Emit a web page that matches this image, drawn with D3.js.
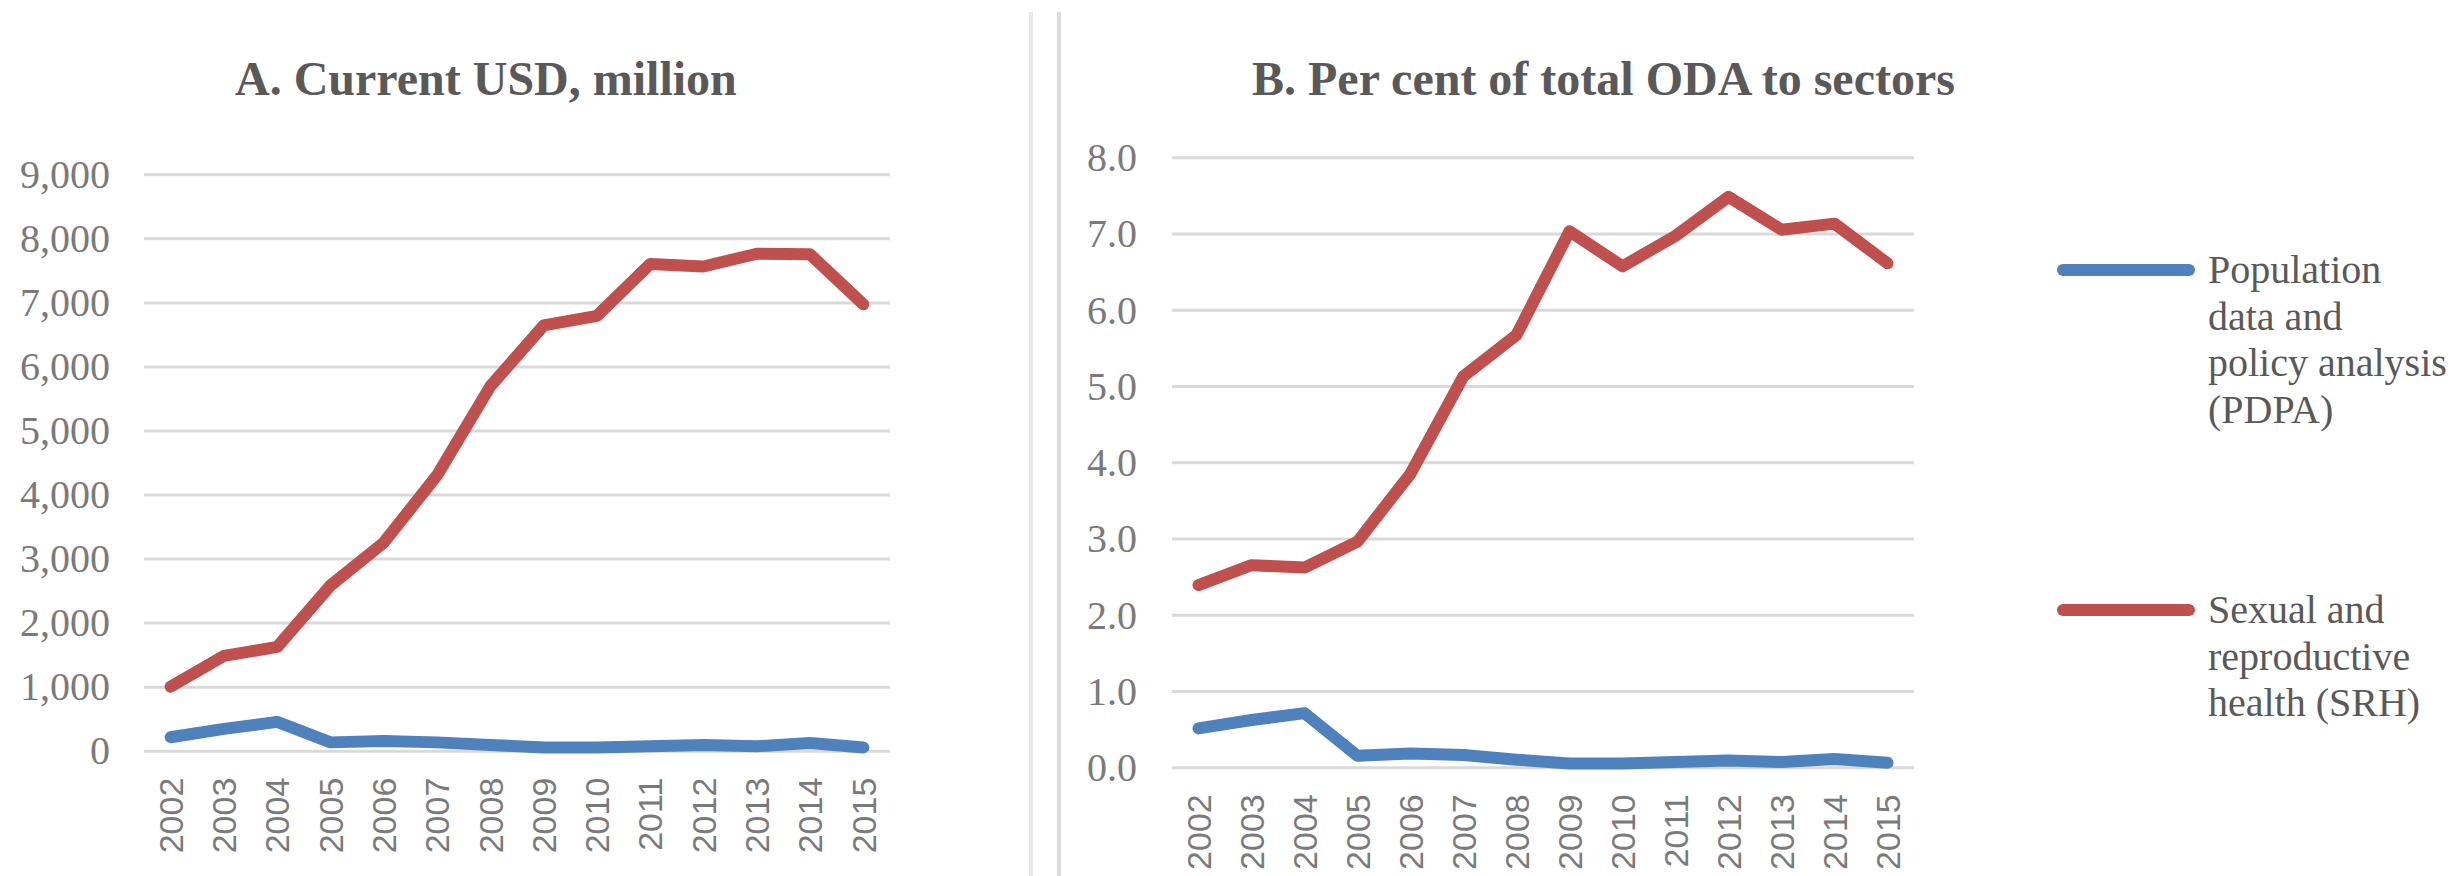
<!DOCTYPE html>
<html>
<head>
<meta charset="utf-8">
<script src="https://cdn.jsdelivr.net/npm/d3@7"></script>
<style>
  html, body { margin: 0; padding: 0; background: #ffffff; }
  svg { display: block; }
</style>
</head>
<body>
<svg id="chart" width="2458" height="876"></svg>
<script>
// ---------------- DATA ----------------
const years = ["2002","2003","2004","2005","2006","2007","2008","2009","2010","2011","2012","2013","2014","2015"];

// Panel A: Current USD, million
const pdpaUSD = [210, 340, 450, 130, 150, 130, 90, 50, 50, 70, 90, 70, 120, 50];
const srhUSD  = [1000, 1480, 1620, 2580, 3250, 4300, 5690, 6640, 6790, 7600, 7560, 7760, 7750, 6970];

// Panel B: Per cent of total ODA to sectors
const pdpaPct = [0.51, 0.62, 0.71, 0.15, 0.18, 0.16, 0.10, 0.05, 0.05, 0.07, 0.09, 0.07, 0.11, 0.06];
const srhPct  = [2.39, 2.65, 2.62, 2.96, 3.85, 5.13, 5.67, 7.03, 6.57, 6.97, 7.48, 7.05, 7.13, 6.61];

const ticksUSD = [0, 1000, 2000, 3000, 4000, 5000, 6000, 7000, 8000, 9000];
const ticksPct = [0, 1, 2, 3, 4, 5, 6, 7, 8];

const titleA = "A. Current USD, million";
const titleB = "B. Per cent of total ODA to sectors";

const seriesNames = [
  ["Population", "data and", "policy analysis", "(PDPA)"],
  ["Sexual and", "reproductive", "health (SRH)"]
];
const seriesColors = ["#4F81BD", "#C0504D"];

// ---------------- DRAW ----------------
const svg = d3.select("#chart");
const serif = "'Liberation Serif', 'Times New Roman', serif";
const sans = "'Liberation Sans', Arial, sans-serif";

// divider lines between panels
svg.append("line").attr("x1", 1031).attr("x2", 1031).attr("y1", 12).attr("y2", 876)
  .attr("stroke", "#e8e8e8").attr("stroke-width", 4);
svg.append("line").attr("x1", 1059).attr("x2", 1059).attr("y1", 12).attr("y2", 876)
  .attr("stroke", "#dcdcdc").attr("stroke-width", 4);

function panel(cfg) {
  const x = d3.scaleBand().domain(years).range([cfg.left, cfg.right]).padding(0);
  const y = d3.scaleLinear().domain(cfg.domain).range([cfg.bottom, cfg.top]);
  const w = cfg.right - cfg.left;

  // gridlines
  const grid = svg.append("g").attr("transform", `translate(${cfg.left},0)`)
    .call(d3.axisLeft(y).tickValues(cfg.ticks).tickSize(-w).tickFormat(""));
  grid.select(".domain").remove();
  grid.selectAll(".tick line").attr("stroke", "#d9d9d9").attr("stroke-width", 3);

  // y tick labels
  const ya = svg.append("g").attr("transform", `translate(${cfg.left},0)`)
    .call(d3.axisLeft(y).tickValues(cfg.ticks).tickSize(0).tickPadding(cfg.labelGap).tickFormat(cfg.fmt));
  ya.select(".domain").remove();
  ya.selectAll("text")
    .attr("font-family", serif).attr("font-size", 40).attr("fill", "#7a7a7a")
    .attr("dy", "0.33em");

  // x labels (rotated)
  svg.append("g").selectAll("text").data(years).join("text")
    .attr("transform", d => `translate(${x(d) + x.bandwidth() / 2},${cfg.bottom + 27}) rotate(-90)`)
    .attr("text-anchor", "end")
    .attr("dy", "0.36em")
    .attr("font-family", sans).attr("font-size", 34).attr("fill", "#7a7a7a")
    .text(d => d);

  // lines
  const line = d3.line()
    .x((d, i) => x(years[i]) + x.bandwidth() / 2)
    .y(d => y(d));
  cfg.series.forEach((s, k) => {
    svg.append("path").datum(s)
      .attr("d", line)
      .attr("fill", "none")
      .attr("stroke", seriesColors[k])
      .attr("stroke-width", 12)
      .attr("stroke-linejoin", "round")
      .attr("stroke-linecap", "round");
  });

  // title
  svg.append("text")
    .attr("x", cfg.titleX).attr("y", 95)
    .attr("font-family", serif).attr("font-weight", "bold").attr("font-size", 48)
    .attr("fill", "#595959")
    .text(cfg.title);
}

panel({
  left: 144, right: 890, top: 174.3, bottom: 750.7,
  domain: [0, 9000], ticks: ticksUSD, fmt: d3.format(","), labelGap: 34,
  series: [pdpaUSD, srhUSD], title: titleA, titleX: 235
});

panel({
  left: 1172, right: 1914, top: 157.3, bottom: 767.3,
  domain: [0, 8], ticks: ticksPct, fmt: d3.format(".1f"), labelGap: 35,
  series: [pdpaPct, srhPct], title: titleB, titleX: 1252
});

// legend
const legendY = [270, 610];
seriesNames.forEach((lines, k) => {
  const g = svg.append("g");
  g.append("line")
    .attr("x1", 2063).attr("x2", 2189)
    .attr("y1", legendY[k]).attr("y2", legendY[k])
    .attr("stroke", seriesColors[k]).attr("stroke-width", 12)
    .attr("stroke-linecap", "round");
  g.selectAll("text").data(lines).join("text")
    .attr("x", 2208)
    .attr("y", (d, i) => legendY[k] + 13 + i * 46.7)
    .attr("font-family", serif).attr("font-size", 40).attr("fill", "#595959")
    .text(d => d);
});
</script>
</body>
</html>
